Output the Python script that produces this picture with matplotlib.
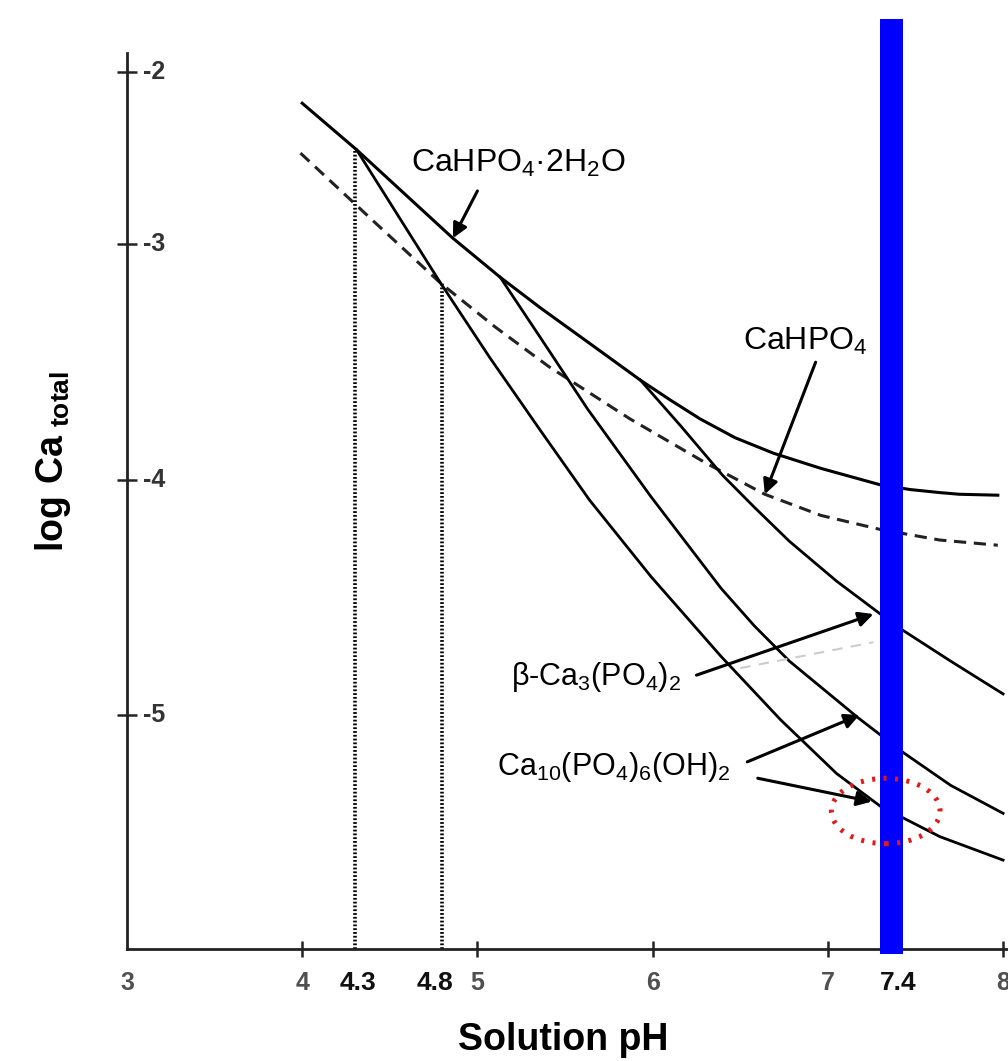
import numpy as np
import matplotlib.pyplot as plt
from matplotlib.patches import Ellipse

plt.rcParams['font.family'] = ['Liberation Sans', 'DejaVu Sans']
plt.rcParams['mathtext.fontset'] = 'custom'
plt.rcParams['mathtext.rm'] = 'Liberation Sans'
plt.rcParams['mathtext.bf'] = 'Liberation Sans:bold'
plt.rcParams['mathtext.default'] = 'regular'

# solubility isotherms (pH, log Ca_total)
dcpd_ph = [4.00, 4.31, 4.86, 5.13, 5.36, 5.64, 5.93, 6.10, 6.27, 6.47, 6.69,
           6.96, 7.30, 7.47, 7.64, 7.75, 7.97]
dcpd_log = [-2.18, -2.45, -2.965, -3.14, -3.27, -3.42, -3.576, -3.66, -3.74, -3.82,
            -3.886, -3.95, -4.02, -4.04, -4.053, -4.06, -4.064]

dcpa_ph = [3.99, 4.39, 4.79, 5.10, 5.41, 5.87, 6.31, 6.64, 6.96, 7.30, 7.64, 7.97]
dcpa_log = [-2.47, -2.85, -3.165, -3.35, -3.52, -3.74, -3.93, -4.06, -4.15, -4.21,
            -4.255, -4.277]

tcp_ph = [5.93, 6.16, 6.40, 6.58, 6.78, 7.05, 7.30, 7.43, 7.70, 8.00]
tcp_log = [-3.576, -3.77, -3.98, -4.115, -4.26, -4.43, -4.57, -4.64, -4.77, -4.91]

hap1_ph = [5.13, 5.39, 5.63, 5.99, 6.39, 6.58, 6.78, 7.17, 7.30, 7.43, 7.70, 8.00]
hap1_log = [-3.14, -3.43, -3.70, -4.07, -4.46, -4.62, -4.77, -5.01, -5.085, -5.16,
            -5.30, -5.42]

hap2_ph = [4.31, 4.79, 5.07, 5.36, 5.64, 5.99, 6.39, 6.73, 7.05, 7.30, 7.64, 8.00]
hap2_log = [-2.45, -3.165, -3.48, -3.79, -4.085, -4.41, -4.75, -5.02, -5.25, -5.39,
            -5.52, -5.62]

singular_ph = [4.3, 4.8]
singular_log = [-2.45, -3.165]
singular_labels = ['4.3', '4.8']
body_ph = [7.30, 7.43]  # blue band drawn around physiological pH

x_ticks = [3, 4, 5, 6, 7, 8]
y_ticks = [-5, -4, -3, -2]

# the scanned y axis is not evenly spaced, so follow its tick spacing
scale_y = [-20, -6, -5, -4, -3, -2, 10]
scale_h = [-3276, 0, 234, 469, 705, 877, 2941]


def fwd(y):
    return np.interp(y, scale_y, scale_h)


def inv(h):
    return np.interp(h, scale_h, scale_y)


fig = plt.figure(figsize=(10.08, 10.61), dpi=100)
ax = fig.add_axes([127 / 1008, 112 / 1061, 881 / 1008, 930 / 1061])
ax.set_yscale('function', functions=(fwd, inv))
ax.set_xlim(3, 8.028)
ax.set_ylim(-6, -1.69)

lw = 2.0
ax.plot(dcpd_ph, dcpd_log, color='black', lw=2.2)
ax.plot(dcpa_ph, dcpa_log, color='#222222', lw=2.2, linestyle=(0, (4, 2.5)))
ax.plot(tcp_ph, tcp_log, color='black', lw=lw)
ax.plot(hap1_ph, hap1_log, color='black', lw=lw)
ax.plot(hap2_ph, hap2_log, color='black', lw=lw)
ax.plot([6.50, 7.26], [-4.80, -4.69], color='#cccccc', lw=1.5, linestyle=(0, (5, 4)))

for ph, lg in zip(singular_ph, singular_log):
    ax.plot([ph, ph], [-6, lg], color='black', lw=2.6, linestyle=(0, (0.5, 0.55)))

ax.axvspan(body_ph[0], body_ph[1], ymin=-0.005, ymax=1, color='#0000ff', zorder=5,
           clip_on=False, lw=0)
ax.add_patch(Ellipse((7.33, -5.41), 0.62, 0.28, fill=False, edgecolor='#e31a1c',
                     lw=3.6, linestyle=(0, (0.6, 1.7)), zorder=6))

arrow = dict(arrowstyle='-|>', color='black', lw=2.2, mutation_scale=22,
             shrinkA=0, shrinkB=0)
ax.text(5.23, -2.53, r'CaHPO$_4$·2H$_2$O', fontsize=23, ha='center', va='center')
ax.annotate('', xy=(4.86, -2.965), xytext=(5.00, -2.69), arrowprops=arrow)
ax.text(6.87, -3.41, r'CaHPO$_4$', fontsize=23, ha='center', va='center')
ax.annotate('', xy=(6.64, -4.06), xytext=(6.93, -3.50), arrowprops=arrow)
ax.text(5.68, -4.84, r'β-Ca$_3$(PO$_4$)$_2$', fontsize=22, ha='center', va='center')
ax.annotate('', xy=(7.26, -4.57), xytext=(6.25, -4.83), arrowprops=arrow)
ax.text(5.78, -5.22, r'Ca$_{10}$(PO$_4$)$_6$(OH)$_2$', fontsize=22, ha='center', va='center')
ax.annotate('', xy=(7.18, -5.00), xytext=(6.54, -5.20), arrowprops=arrow)
ax.annotate('', xy=(7.25, -5.37), xytext=(6.60, -5.27), arrowprops=arrow)

# axes in the style of the scanned plot
for side in ['top', 'right']:
    ax.spines[side].set_visible(False)
for side in ['left', 'bottom']:
    ax.spines[side].set_linewidth(2)
    ax.spines[side].set_color('#222222')
ax.spines['left'].set_bounds(-6, -1.89)

ax.set_xticks(x_ticks)
ax.set_xticklabels([str(t) for t in x_ticks], fontsize=18, fontweight='bold', color='#505050')
ax.tick_params(axis='x', direction='inout', length=11, width=1.8, pad=10, color='#222222')
ax.xaxis.get_major_ticks()[0].tick1line.set_visible(False)
ax.set_yticks(y_ticks)
ax.set_yticklabels([])
ax.tick_params(axis='y', direction='inout', length=14, width=1.8, color='#222222')
for t in y_ticks:
    ax.text(3.09, t, '-' + str(abs(t)), fontsize=18, fontweight='bold', color='#333333',
            ha='left', va='center')

for ph, lbl in zip([4.32, 4.76, 7.40], singular_labels + ['7.4']):
    ax.text(ph, -6.145, lbl, fontsize=19, fontweight='bold', color='#111111',
            ha='center', va='center')

ax.set_xlabel('Solution pH', fontsize=27, fontweight='bold', va='center')
ax.xaxis.set_label_coords(0.495, -0.098)
ax.set_ylabel(r'$\mathbf{log\ Ca}_{\ \mathbf{total}}$', fontsize=27, va='center')
ax.yaxis.set_label_coords(-0.084, 0.524)

fig.savefig('out.png', dpi=100)
